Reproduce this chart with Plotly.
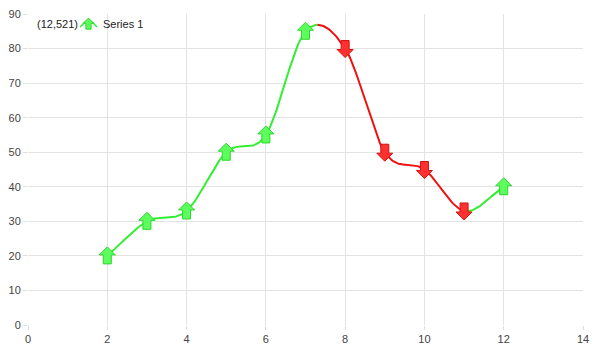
import plotly.graph_objects as go
import numpy as np

x_vals = [2, 3, 4, 5, 6, 7, 8, 9, 10, 11, 12]
y_vals = [20, 30, 33, 50, 55, 85, 80, 50, 45, 33, 40]
series_name = "Series 1"
legend_prefix = "(12,521)"

GREEN_LINE = "#33ee33"
RED_LINE = "#ee1111"
GREEN_FILL = "#5cff5c"
GREEN_EDGE = "#2fd42f"
RED_FILL = "#ff3030"
RED_EDGE = "#d41010"

# Catmull-Rom spline through the data points
x = np.array(x_vals, float)
y = np.array(y_vals, float)
n = len(x)
mx = np.zeros(n); my = np.zeros(n)
for i in range(n):
    if i == 0:
        mx[i], my[i] = x[1] - x[0], y[1] - y[0]
    elif i == n - 1:
        mx[i], my[i] = x[-1] - x[-2], y[-1] - y[-2]
    else:
        mx[i], my[i] = (x[i + 1] - x[i - 1]) / 2, (y[i + 1] - y[i - 1]) / 2
cx, cy = [], []
for i in range(n - 1):
    t = np.linspace(0, 1, 40, endpoint=(i == n - 2))
    h00 = 2 * t**3 - 3 * t**2 + 1
    h10 = t**3 - 2 * t**2 + t
    h01 = -2 * t**3 + 3 * t**2
    h11 = t**3 - t**2
    cx.extend(h00 * x[i] + h10 * mx[i] + h01 * x[i + 1] + h11 * mx[i + 1])
    cy.extend(h00 * y[i] + h10 * my[i] + h01 * y[i + 1] + h11 * my[i + 1])
cx = np.array(cx); cy = np.array(cy)

fig = go.Figure()
# split curve into runs of rising / falling
signs = np.sign(np.diff(cy))
signs[signs == 0] = 1
start = 0
for k in range(1, len(signs) + 1):
    if k == len(signs) or signs[k] != signs[start]:
        col = GREEN_LINE if signs[start] > 0 else RED_LINE
        fig.add_trace(go.Scatter(x=cx[start:k + 1], y=cy[start:k + 1], mode="lines",
                                 line=dict(color=col, width=2), showlegend=False,
                                 hoverinfo="skip"))
        start = k

def arrow_path(up, s=1.0):
    pts = [(0, 9), (8, 1), (4, 1), (4, -8), (-4, -8), (-4, 1), (-8, 1)]
    if not up:
        pts = [(px, -py) for px, py in pts]
    return "M" + " L".join(f"{px*s:.1f},{py*s:.1f}" for px, py in pts) + " Z"

shapes = []
for i, (xv, yv) in enumerate(zip(x_vals, y_vals)):
    up = i == 0 or yv >= y_vals[i - 1]
    shapes.append(dict(type="path", xref="x", yref="y", xsizemode="pixel", ysizemode="pixel",
                       xanchor=xv, yanchor=yv, path=arrow_path(up),
                       fillcolor=GREEN_FILL if up else RED_FILL,
                       line=dict(color=GREEN_EDGE if up else RED_EDGE, width=1),
                       layer="above"))

# legend (manual)
W, H = 598, 351
L, R, T, B = 28, 15, 14, 26
pw, ph = W - L - R, H - T - B
def px2paper(px, py):
    return (px - L) / pw, (H - B - py) / ph
# small curved legend line
lt = np.linspace(0, 1, 20)
lxs = [px2paper(80 + 17 * tt, 0)[0] for tt in lt]
lys = [px2paper(0, 27 - 6 * np.sin(np.pi * tt)) [1] for tt in lt]
fig.add_trace(go.Scatter(x=lxs, y=lys, xaxis="x2", yaxis="y2", mode="lines",
                         line=dict(color=GREEN_LINE, width=1.5), showlegend=False,
                         hoverinfo="skip"))
ax, ay = px2paper(88.5, 24)
shapes.append(dict(type="path", xref="paper", yref="paper", xsizemode="pixel", ysizemode="pixel",
                   xanchor=ax, yanchor=ay, path=arrow_path(True, 0.65),
                   fillcolor=GREEN_FILL, line=dict(color=GREEN_EDGE, width=1), layer="above"))
t1x, t1y = px2paper(35, 24)
t2x, _ = px2paper(101, 24)
annotations = [
    dict(text=legend_prefix, x=t1x, y=t1y, xref="paper", yref="paper", xanchor="left",
         yanchor="middle", showarrow=False, font=dict(size=11, color="#222")),
    dict(text=series_name, x=t2x, y=t1y, xref="paper", yref="paper", xanchor="left",
         yanchor="middle", showarrow=False, font=dict(size=11, color="#222")),
]

axis_common = dict(showgrid=True, gridcolor="#e3e3e3", gridwidth=1, zeroline=False,
                   showline=False, ticks="outside", ticklen=4, tickcolor="#dddddd",
                   tickfont=dict(family="Liberation Sans, Arial", size=11, color="#444"),
                   fixedrange=True, automargin=False)
hidden = dict(visible=False, range=[0, 1], fixedrange=True, automargin=False)
fig.update_layout(
    width=W, height=H,
    margin=dict(l=L, r=R, t=T, b=B),
    paper_bgcolor="white", plot_bgcolor="white",
    font=dict(family="Liberation Sans, Arial", size=12),
    xaxis=dict(range=[0, 14], dtick=2, **axis_common),
    yaxis=dict(range=[0, 90], dtick=10, **axis_common),
    xaxis2=dict(overlaying="x", **hidden),
    yaxis2=dict(overlaying="y", **hidden),
    shapes=shapes, annotations=annotations, showlegend=False,
)
fig.write_html("out.html")
